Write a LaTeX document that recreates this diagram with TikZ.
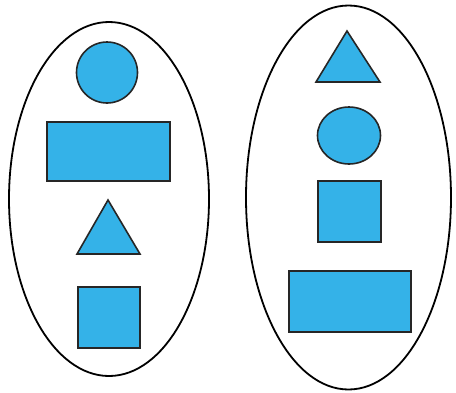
\documentclass[tikz,border=0pt]{standalone}
\definecolor{shapeblue}{RGB}{52,178,232}
\begin{document}
\begin{tikzpicture}[x=1pt, y=-1pt, line join=miter,
  blob/.style={fill=shapeblue, draw=black!85, line width=1.6pt}]
  \useasboundingbox (0,0) rectangle (456,392);
  % left set
  \draw[line width=1.8pt] (109,199) ellipse[x radius=100, y radius=177];
  \draw[blob] (107,72.5) circle[radius=30.5];
  \draw[blob] (47,122) rectangle (170,181);
  \draw[blob] (77,254) -- (108,200) -- (140,254) -- cycle;
  \draw[blob] (78,287) rectangle (140,348);
  % right set
  \draw[line width=1.8pt] (348.5,197.5) ellipse[x radius=102.5, y radius=192];
  \draw[blob] (316,82) -- (347,31) -- (380,82) -- cycle;
  \draw[blob] (349,135.5) ellipse[x radius=31.5, y radius=28.5];
  \draw[blob] (318,181) rectangle (381,242);
  \draw[blob] (289,271) rectangle (411,332);
\end{tikzpicture}
\end{document}
